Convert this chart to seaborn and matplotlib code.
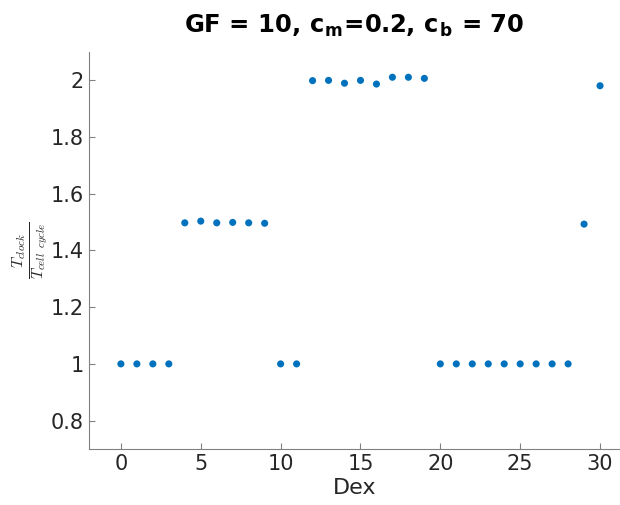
import numpy as np
import pandas as pd
import matplotlib
matplotlib.use('Agg')
import matplotlib.pyplot as plt
import seaborn as sns

# values
dex = list(range(31))
ratio = [1.0, 1.0, 1.0, 1.0,
         1.4975, 1.5035, 1.4975, 1.499, 1.4975, 1.496,
         1.0, 1.0,
         1.999, 2.0, 1.990, 2.0, 1.987, 2.011, 2.011, 2.007,
         1.0, 1.0, 1.0, 1.0, 1.0, 1.0, 1.0, 1.0, 1.0,
         1.493, 1.981]
ytick_vals = [0.8, 1.0, 1.2, 1.4, 1.6, 1.8, 2.0]
ytick_labels = ['0.8', '1', '1.2', '1.4', '1.6', '1.8', '2']
xtick_vals = [0, 5, 10, 15, 20, 25, 30]

data = pd.DataFrame({'Dex': dex, 'ratio': ratio})

sns.set_style('white')
plt.rcParams['font.family'] = ['DejaVu Sans']
# serif italic for the latex-like y label, sans bold for title subscripts
plt.rcParams['mathtext.fontset'] = 'custom'
plt.rcParams['mathtext.it'] = 'cmmi10'
plt.rcParams['mathtext.rm'] = 'cmr10'
plt.rcParams['mathtext.bf'] = 'DejaVu Sans:bold'

fig = plt.figure(figsize=(6.2, 5.05), dpi=100)
ax = fig.add_axes([0.1435, 0.111, 0.8565, 0.786])

sns.scatterplot(data=data, x='Dex', y='ratio', color='#0072BD', s=26,
                edgecolor='none', ax=ax)

ax.set_xlim(-2, 31.25)
ax.set_ylim(0.7, 2.1)
ax.set_xticks(xtick_vals)
ax.set_yticks(ytick_vals)
ax.set_yticklabels(ytick_labels)

sns.despine(ax=ax)
for s in ['left', 'bottom']:
    ax.spines[s].set_color('#808080')
    ax.spines[s].set_linewidth(0.8)
ax.tick_params(direction='in', length=4, width=0.8, color='#808080',
               labelsize=15, labelcolor='#262626', left=True, bottom=True)

ax.set_xlabel('Dex', fontsize=16, color='#262626', labelpad=3)
ax.set_ylabel(r'$\frac{T_{clock}}{T_{cell\ \ cycle}}$', fontsize=16,
              color='#262626', labelpad=0)
ax.set_title(r'GF = 10, c$_\mathbf{m}$=0.2, c$_\mathbf{b}$ = 70',
             fontsize=17.5, fontweight='bold', color='black', pad=14)

fig.savefig('out.png', dpi=100)
